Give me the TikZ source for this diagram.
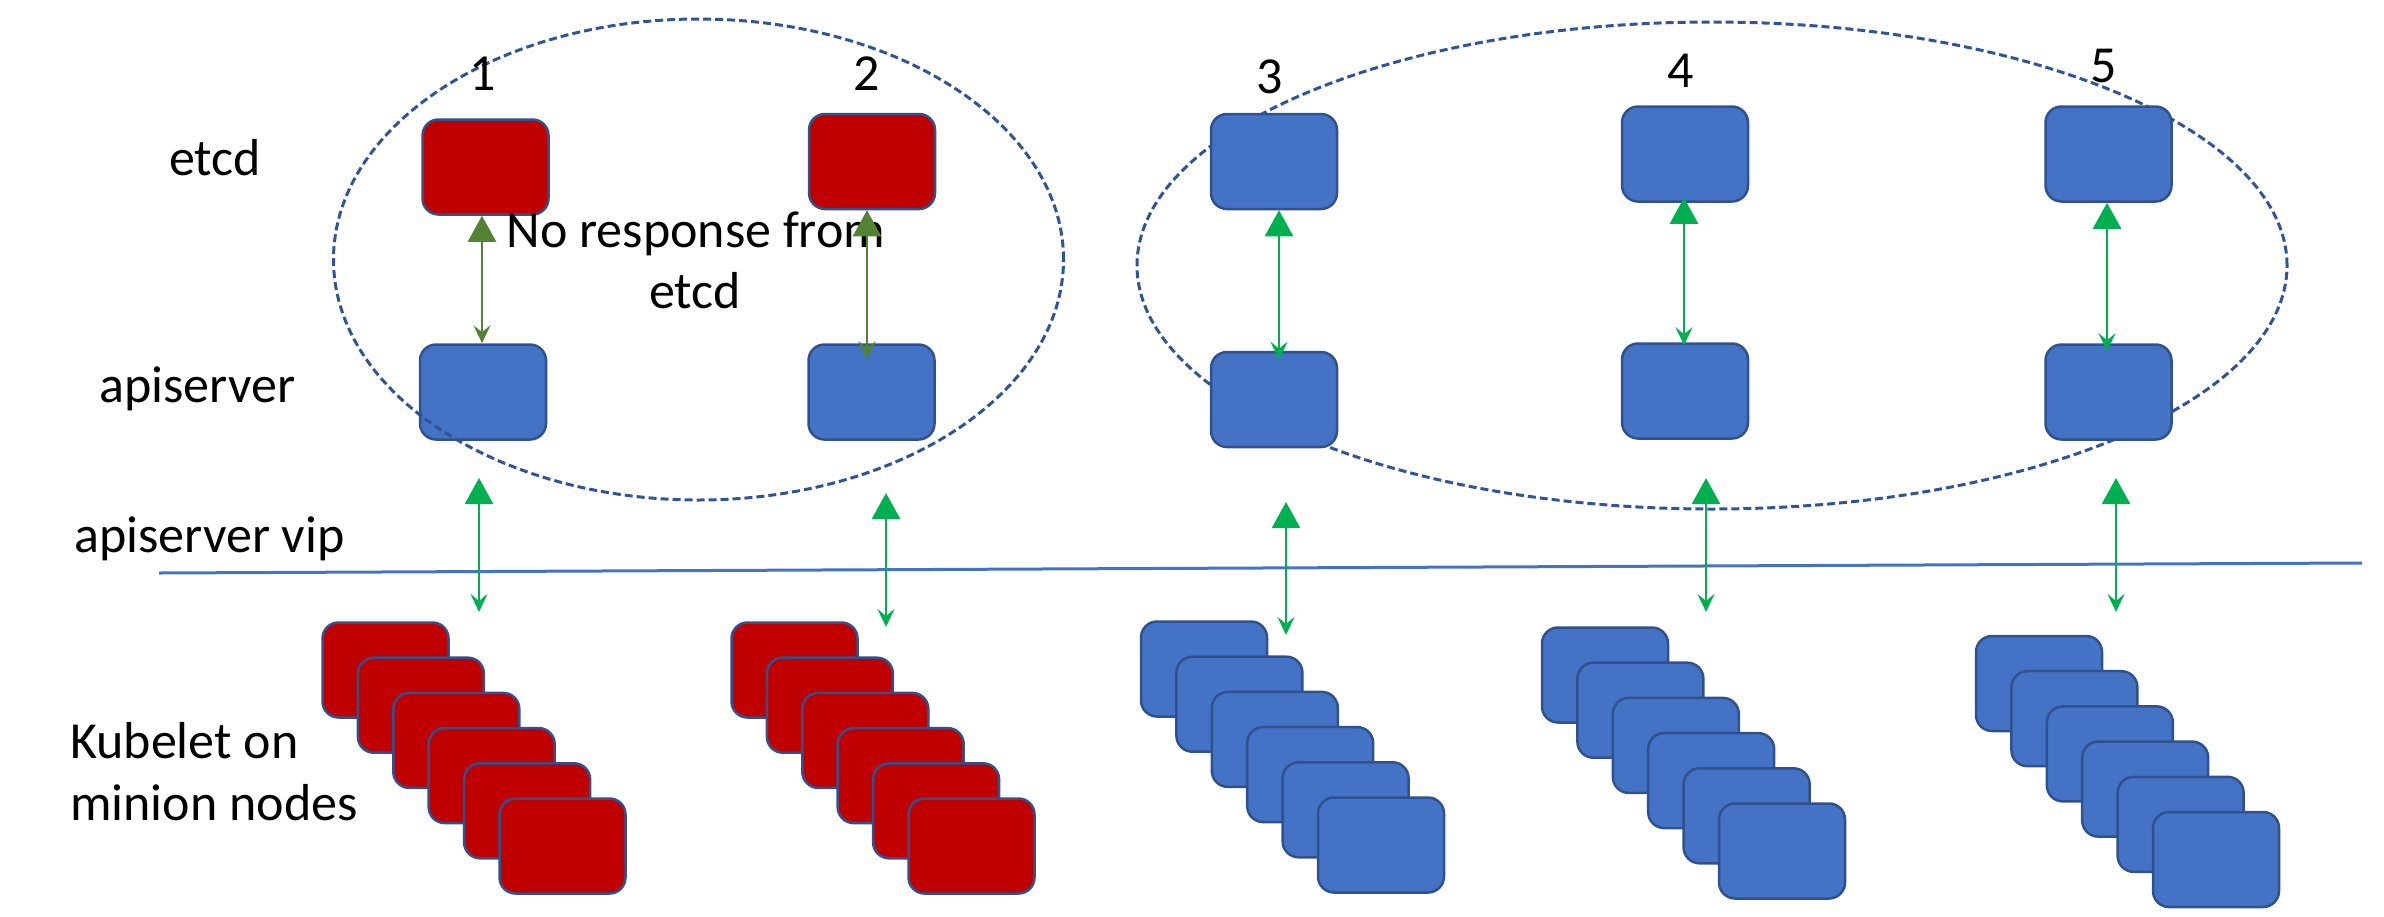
\documentclass[tikz,border=0pt]{standalone}
\usepackage{fontspec}
\setmainfont{Carlito}
\usetikzlibrary{arrows.meta,shapes.geometric}
\definecolor{nodered}{HTML}{C00000}
\definecolor{nodeblue}{HTML}{4472C4}
\definecolor{edgeblue}{HTML}{2F528F}
\definecolor{linkgreen}{HTML}{00B050}
\definecolor{deadgreen}{HTML}{548235}
\definecolor{ringblue}{HTML}{2F5597}

\begin{document}
\begin{tikzpicture}[x=1pt,y=-1pt,
  box/.style={draw=edgeblue, line width=2.5pt, rounded corners=16pt,
    minimum width=126pt, minimum height=95pt, inner sep=0pt},
  okbox/.style={box, fill=nodeblue},
  failbox/.style={box, fill=nodered},
  ring/.style={ellipse, draw=ringblue, line width=3pt, dash pattern=on 8pt off 4pt, inner sep=0pt},
  link/.style={line width=2.5pt,
    {Triangle[length=26pt,width=28pt]}-{Stealth[length=18pt,width=17pt,inset=7pt]}},
  txt/.style={font=\fontsize{52}{62}\selectfont, inner sep=0pt},
  lbl/.style={txt, anchor=base west},
  num/.style={txt, anchor=base},
]
\useasboundingbox (0,0) rectangle (2384,916);

% group of healthy members (behind the boxes)
\node[ring, minimum width=1150pt, minimum height=487pt] (grpB) at (1712,265.5) {};

% etcd members
\node[failbox] (e1) at (485.5,167) {};
\node[failbox] (e2) at (872,161.5) {};
\node[okbox]   (e3) at (1274,161.5) {};
\node[okbox]   (e4) at (1685,154) {};
\node[okbox]   (e5) at (2108.5,154) {};

% apiservers
\node[okbox] (a1) at (483,392) {};
\node[okbox] (a2) at (871.5,392) {};
\node[okbox] (a3) at (1274,399.5) {};
\node[okbox] (a4) at (1685,391) {};
\node[okbox] (a5) at (2108.5,392) {};

% partitioned group (in front of the boxes)
\node[ring, minimum width=730pt, minimum height=481pt] (grpA) at (698.5,259.5) {};

% row labels
\node[lbl] (lEtcd) at (169,175) {etcd};
\node[lbl] (lApi)  at (99,402) {apiserver};
\node[lbl] (lVip)  at (74,552) {apiserver vip};
\node[lbl] (lKub1) at (70,758) {Kubelet on};
\node[lbl] (lKub2) at (70,820) {minion nodes};

% member numbers
\node[num] (n1) at (483,90) {1};
\node[num] (n2) at (867,90) {2};
\node[num] (n3) at (1270,93) {3};
\node[num] (n4) at (1681,87) {4};
\node[num] (n5) at (2104,82) {5};

% note on the failed side
\node[num] (note1) at (696,247) {No response from};
\node[num] (note2) at (695,308) {etcd};

% virtual IP line
\coordinate (vipL) at (159,573);
\coordinate (vipR) at (2362,563);
\draw[nodeblue, line width=3pt] (vipL) -- (vipR);

% apiserver <-> etcd
\draw[link, deadgreen] ([xshift=-3.5pt]e1.south) -- ([xshift=-1pt]a1.north);
\draw[link, deadgreen, shorten >=-16pt] ([xshift=-5pt]e2.south) -- ([xshift=-4.5pt]a2.north);
\draw[link, linkgreen, shorten >=-9pt] ([xshift=5pt]e3.south) -- ([xshift=5pt]a3.north);
\draw[link, linkgreen, shorten <=-5pt, shorten >=-3pt] ([xshift=-1pt]e4.south) -- ([xshift=-1pt]a4.north);
\draw[link, linkgreen, shorten >=-8pt] ([xshift=-1.5pt]e5.south) -- ([xshift=-1.5pt]a5.north);

% kubelet stacks
\foreach \k in {0,...,5} {
  \node[failbox] (k1-\k) at (385.5+35.4*\k, 670+35.2*\k) {};
  \node[failbox] (k2-\k) at (794.5+35.4*\k, 670+35.2*\k) {};
  \node[okbox]   (k3-\k) at (1204+35.4*\k, 669+35.2*\k) {};
  \node[okbox]   (k4-\k) at (1605+35.4*\k, 675+35.2*\k) {};
  \node[okbox]   (k5-\k) at (2039+35.4*\k, 683.5+35.2*\k) {};
}

% kubelet <-> apiserver vip
\coordinate (up1) at (479,478);  \coordinate (dn1) at (479,612);
\coordinate (up2) at (886,493);  \coordinate (dn2) at (886,627);
\coordinate (up3) at (1286,502); \coordinate (dn3) at (1286,635);
\coordinate (up4) at (1706,478); \coordinate (dn4) at (1706,612);
\coordinate (up5) at (2116,478); \coordinate (dn5) at (2116,612);
\foreach \i in {1,...,5} {
  \draw[link, linkgreen] (up\i) -- (dn\i);
}
\end{tikzpicture}
\end{document}
